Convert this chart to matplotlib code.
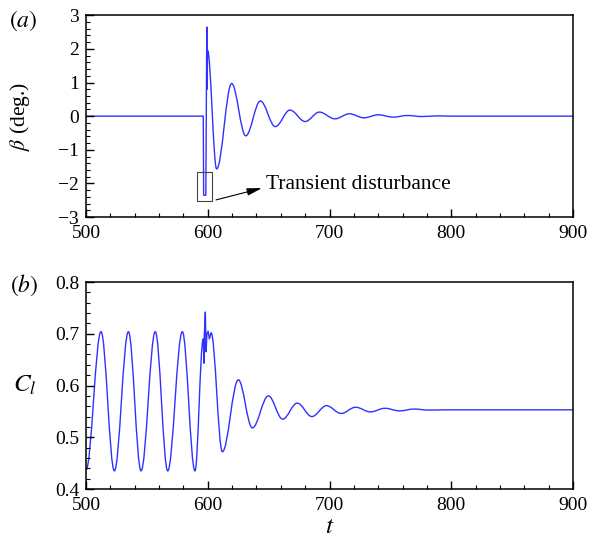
import numpy as np
import matplotlib
matplotlib.use("Agg")
import matplotlib.pyplot as plt
from matplotlib.path import Path
from matplotlib.patches import PathPatch, Rectangle
from matplotlib.ticker import MultipleLocator

plt.rcParams['font.family'] = ['Liberation Serif', 'DejaVu Serif']
plt.rcParams['mathtext.fontset'] = 'stix'

# Values
# beta: flat part and the transient spike (straight segments)
beta_spike_t = [500.0, 596.3, 596.6, 598.4, 599.2, 599.4, 599.8]
beta_spike_v = [0.0, 0.0, -2.35, -2.35, 2.65, 0.80, 1.95]
# beta: damped oscillation, successive extrema
beta_ext_t = [599.8, 607.3, 619.6, 631.2, 643.2, 655.5, 667.5, 680.0, 691.6, 704.5,
              716.3, 728.3, 740.0, 752.4, 764.0, 776.0, 788.0, 800.0, 900.0]
beta_ext_v = [1.95, -1.57, 0.97, -0.585, 0.45, -0.31, 0.18, -0.16, 0.12, -0.08,
              0.07, -0.05, 0.04, -0.03, 0.02, -0.012, 0.008, 0.0, 0.0]

# Cl: steady oscillation before the disturbance, extrema
cl_pre_t = [500.0, 512.3, 523.3, 534.8, 545.2, 556.9, 567.1, 579.1, 589.5, 596.3]
cl_pre_v = [0.437, 0.704, 0.435, 0.704, 0.435, 0.704, 0.435, 0.704, 0.435, 0.69]
# Cl: jagged part during the disturbance
cl_spike_t = [596.3, 596.9, 597.2, 598.0, 598.6, 599.3, 600.3, 601.3, 602.7]
cl_spike_v = [0.69, 0.643, 0.70, 0.742, 0.665, 0.70, 0.705, 0.69, 0.702]
# Cl: decaying oscillation after it, extrema
cl_post_t = [602.7, 612.0, 625.1, 636.6, 649.8, 661.5, 673.5, 685.5, 697.5, 709.5,
             721.5, 733.5, 745.5, 757.5, 769.5, 781.5, 795.0, 900.0]
cl_post_v = [0.702, 0.472, 0.611, 0.518, 0.580, 0.535, 0.566, 0.540, 0.561, 0.546,
             0.558, 0.549, 0.556, 0.551, 0.5545, 0.5525, 0.553, 0.553]

line_color = '#3030ff'


def add_lines(verts, codes, ts, vs):
    # straight segments
    for t, v in zip(ts, vs):
        verts.append((t, v))
        codes.append(Path.MOVETO if len(codes) == 0 else Path.LINETO)


def add_smooth(verts, codes, ts, vs):
    # cubic bezier between extrema, flat tangent at each extremum
    if not verts:
        verts.append((ts[0], vs[0]))
        codes.append(Path.MOVETO)
    for i in range(len(ts) - 1):
        dt = ts[i + 1] - ts[i]
        verts += [(ts[i] + 0.364 * dt, vs[i]), (ts[i + 1] - 0.364 * dt, vs[i + 1]),
                  (ts[i + 1], vs[i + 1])]
        codes += [Path.CURVE4] * 3


def style_axes(ax):
    for s in ax.spines.values():
        s.set_linewidth(1.1)
    ax.tick_params(which='both', direction='in', top=False, right=False,
                   labelsize=14)
    ax.tick_params(which='major', length=6, width=1.0)
    ax.tick_params(which='minor', length=3, width=0.8)
    ax.tick_params(axis='x', pad=6)
    ax.tick_params(axis='y', pad=5)
    ax.set_xlim(500, 900)
    ax.xaxis.set_major_locator(MultipleLocator(100))
    ax.xaxis.set_minor_locator(MultipleLocator(20))


fig = plt.figure(figsize=(5.9, 5.44), dpi=100)
ax1 = fig.add_axes([0.1458, 0.601, 0.8254, 0.371])
ax2 = fig.add_axes([0.1458, 0.1011, 0.8254, 0.3805])

# (a) beta
verts, codes = [], []
add_lines(verts, codes, beta_spike_t, beta_spike_v)
add_smooth(verts, codes, beta_ext_t, beta_ext_v)
ax1.add_patch(PathPatch(Path(verts, codes), fill=False, edgecolor=line_color,
                        lw=1.0, joinstyle='round'))
style_axes(ax1)
ax1.set_ylim(-3, 3)
ax1.yaxis.set_major_locator(MultipleLocator(1))
ax1.yaxis.set_minor_locator(MultipleLocator(0.2))
ax1.set_ylabel(r'$\beta$ (deg.)', fontsize=15.5, va='center', ha='center')
ax1.yaxis.set_label_coords(-0.135, 0.5)

ax1.add_patch(Rectangle((591.2, -2.52), 12.3, 0.86, fill=False,
                        edgecolor='#444444', lw=0.8))
ax1.annotate('', xy=(644.5, -2.14), xytext=(606.8, -2.49),
             arrowprops=dict(arrowstyle='-|>,head_length=0.9,head_width=0.22',
                             color='black', lw=0.8, shrinkA=0, shrinkB=0))
ax1.text(647.5, -2.03, 'Transient disturbance', fontsize=15.5, va='center')

# (b) Cl
verts, codes = [], []
add_smooth(verts, codes, cl_pre_t, cl_pre_v)
add_lines(verts, codes, cl_spike_t[1:], cl_spike_v[1:])
add_smooth(verts, codes, cl_post_t, cl_post_v)
ax2.add_patch(PathPatch(Path(verts, codes), fill=False, edgecolor=line_color,
                        lw=1.0, joinstyle='round'))
style_axes(ax2)
ax2.set_ylim(0.4, 0.8)
ax2.yaxis.set_major_locator(MultipleLocator(0.1))
ax2.yaxis.set_minor_locator(MultipleLocator(0.02))
ax2.set_ylabel(r'$C_l$', fontsize=18, rotation=0, va='center', ha='center')
ax2.yaxis.set_label_coords(-0.125, 0.5)
ax2.set_xlabel(r'$t$', fontsize=18, labelpad=1)

fig.text(0.039, 0.962, r'$(a)$', fontsize=17, ha='center', va='center')
fig.text(0.041, 0.476, r'$(b)$', fontsize=17, ha='center', va='center')

fig.savefig('out.png', dpi=100)
